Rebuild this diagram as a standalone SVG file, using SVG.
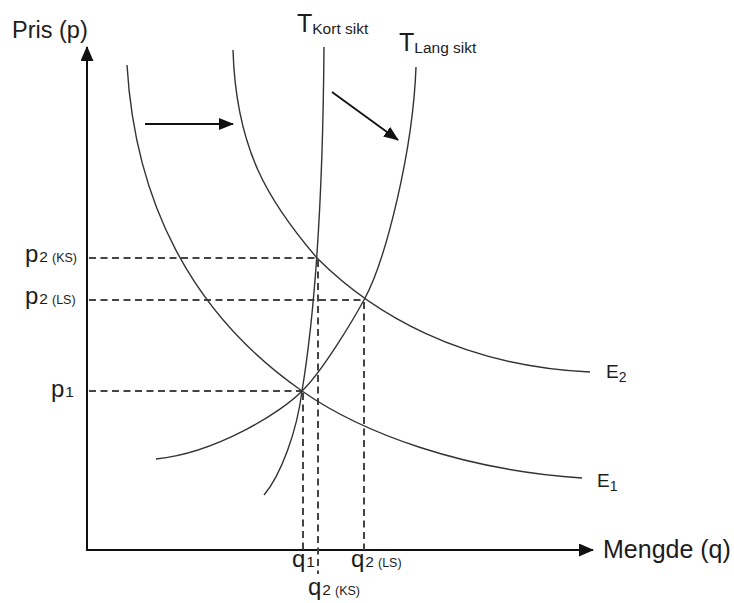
<svg xmlns="http://www.w3.org/2000/svg" width="734" height="603" viewBox="0 0 734 603">
<style>
.axis{stroke:#111;stroke-width:2;fill:none}
.curve{stroke:#333;stroke-width:1.4;fill:none}
.dash{stroke:#444;stroke-width:2;fill:none;stroke-dasharray:7 4.5}
.shift{stroke:#111;stroke-width:1.8;fill:none}
text{font-family:"Liberation Sans",Arial,sans-serif;fill:#1c1c1c}
.sub{font-size:15.5px}
.tag{font-size:12.5px}
</style>
<defs>
<marker id="axhead" viewBox="0 0 15 13" refX="14" refY="6.5" markerWidth="15" markerHeight="13" orient="auto" markerUnits="userSpaceOnUse"><path d="M0,0 L15,6.5 L0,13 z" fill="#111"/></marker>
<marker id="shead" viewBox="0 0 15 12" refX="14" refY="6" markerWidth="15" markerHeight="12" orient="auto" markerUnits="userSpaceOnUse"><path d="M0,0 L15,6 L0,12 z" fill="#111"/></marker>
</defs>
<rect width="734" height="603" fill="#fff"/>
<g id="connectors">
<g id="axes">
<line class="axis" x1="87" y1="551" x2="87" y2="47" marker-end="url(#axhead)"/>
<line class="axis" x1="86" y1="550" x2="593" y2="550" marker-end="url(#axhead)"/>
</g>
<g id="dashed">
<line class="dash" x1="89" y1="258" x2="317" y2="258"/>
<line class="dash" x1="89" y1="300" x2="364" y2="300"/>
<line class="dash" x1="89" y1="391" x2="301" y2="391"/>
<line class="dash" x1="318" y1="260" x2="318" y2="574"/>
<line class="dash" x1="364" y1="302" x2="364" y2="550"/>
<line class="dash" x1="303" y1="393" x2="303" y2="550"/>
</g>
<g id="shift-arrows">
<line class="shift" x1="145" y1="124" x2="233" y2="124" marker-end="url(#shead)"/>
<line class="shift" x1="332" y1="92" x2="398" y2="140" marker-end="url(#shead)"/>
</g>
</g>
<g id="E1">
<path class="curve" d="M127,65 C135,200 190,313 302,391 C362,433 462,470 582,478"/>
<text x="597" y="487" font-size="19">E<tspan font-size="14" dy="4">1</tspan></text>
</g>
<g id="E2">
<path class="curve" d="M233,50 C236,150 269,202 317,258 C372,313 460,366 590,372"/>
<text x="606" y="378" font-size="19">E<tspan font-size="14" dy="4">2</tspan></text>
</g>
<g id="T-kort">
<path class="curve" d="M324,47 C323,180 317,300 302,391 C297,431 281,475 264,495"/>
<text x="297" y="32" font-size="25">T<tspan class="sub" dy="2">Kort sikt</tspan></text>
</g>
<g id="T-lang">
<path class="curve" d="M416,67 C413,150 386,260 364,300 C353,320 322,372 302,391 C282,412 216,453 156,459"/>
<text x="399" y="51" font-size="25">T<tspan class="sub" dy="2">Lang sikt</tspan></text>
</g>
<g id="labels">
<text x="12" y="38" font-size="23.5">Pris (p)</text>
<text x="603" y="558" font-size="25">Mengde (q)</text>
<text x="25" y="262" font-size="24">p<tspan font-size="15.5" dx="1">2</tspan><tspan class="tag" dx="4">(KS)</tspan></text>
<text x="25" y="304" font-size="24">p<tspan font-size="15.5" dx="1">2</tspan><tspan class="tag" dx="4">(LS)</tspan></text>
<text x="51" y="397" font-size="24">p<tspan font-size="15.5" dx="1">1</tspan></text>
<text x="292" y="567" font-size="24">q<tspan font-size="15.5" dx="1">1</tspan></text>
<text x="351" y="567" font-size="24">q<tspan font-size="15.5" dx="1">2</tspan><tspan class="tag" dx="4">(LS)</tspan></text>
<text x="308" y="595" font-size="24">q<tspan font-size="15.5" dx="1">2</tspan><tspan class="tag" dx="4">(KS)</tspan></text>
</g>
</svg>
